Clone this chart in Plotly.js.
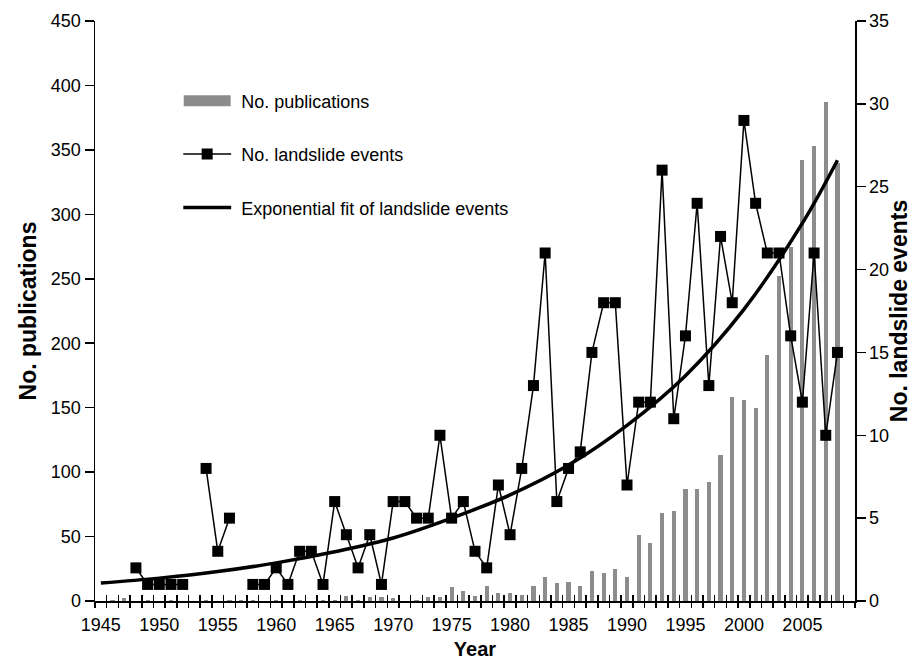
<!DOCTYPE html>
<html>
<head>
<meta charset="utf-8">
<script src="https://cdn.plot.ly/plotly-3.0.1.min.js"></script>
<style>html,body{margin:0;padding:0;background:#fff;}#chart{width:912px;height:660px;}</style>
</head>
<body>
<div id="chart"></div>
<script>
// ---- data ----
const years = [1945,1946,1947,1948,1949,1950,1951,1952,1953,1954,1955,1956,1957,1958,1959,1960,1961,1962,1963,1964,1965,1966,1967,1968,1969,1970,1971,1972,1973,1974,1975,1976,1977,1978,1979,1980,1981,1982,1983,1984,1985,1986,1987,1988,1989,1990,1991,1992,1993,1994,1995,1996,1997,1998,1999,2000,2001,2002,2003,2004,2005,2006,2007,2008];
const publications = [0,1,2,0,1,0,1,0,0,1,0,1,1,1,0,1,0,1,0,1,1,4,1,3,3,2,0,1,3,3,11,8,4,12,6,6,5,12,19,14,15,12,23,22,25,19,51,45,68,70,87,87,92,113,158,156,150,191,252,275,342,353,387,340];
const landslides = [null,null,null,2,1,1,1,1,null,8,3,5,null,1,1,2,1,3,3,1,6,4,2,4,1,6,6,5,5,10,5,6,3,2,7,4,8,13,21,6,8,9,15,18,18,7,12,12,26,11,16,24,13,22,18,29,24,21,21,16,12,21,10,15];
const fitYears = [1945,1950,1955,1960,1965,1970,1975,1980,1985,1990,1995,2000,2005,2008];
const fitValues = [1.08,1.38,1.78,2.3,2.97,3.8,5.0,6.4,8.2,10.6,13.6,17.6,22.8,26.6];
const labelYears = [1945,1950,1955,1960,1965,1970,1975,1980,1985,1990,1995,2000,2005];

const FONT = 'Liberation Sans, Arial, sans-serif';

const traces = [
  {type:'bar', x:years, y:publications, name:'No. publications', width:0.36,
   marker:{color:'#8c8c8c', line:{width:0}}, xaxis:'x', yaxis:'y', legendgroup:'a'},
  {type:'scatter', mode:'lines+markers', x:years, y:landslides, name:'No. landslide events',
   line:{color:'#000', width:1.5}, marker:{symbol:'square', size:11, color:'#000'},
   connectgaps:false, xaxis:'x', yaxis:'y2', legendgroup:'b'},
  {type:'scatter', mode:'lines', x:fitYears, y:fitValues, name:'Exponential fit of landslide events',
   line:{color:'#000', width:3.5, shape:'spline', smoothing:1}, xaxis:'x', yaxis:'y2', legendgroup:'c'},
  {type:'scatter', mode:'markers', x:[null], y:[null], xaxis:'x2', yaxis:'y', showlegend:false, hoverinfo:'skip'},
  {type:'scatter', mode:'markers', x:[null], y:[null], xaxis:'x3', yaxis:'y', showlegend:false, hoverinfo:'skip'}
];

const xrange = [1944.5, 2009.5];
const layout = {
  width:912, height:660,
  margin:{l:95, r:57, t:21, b:59},
  paper_bgcolor:'#fff', plot_bgcolor:'#fff',
  font:{family:FONT, size:18, color:'#000'},
  showlegend:true,
  legend:{x:0.116, y:0.894, xanchor:'left', yanchor:'top', bgcolor:'rgba(0,0,0,0)',
          font:{family:FONT, size:18, color:'#000'}, tracegroupgap:27, traceorder:'grouped', itemwidth:48},
  bargap:0,
  xaxis:{range:xrange, tickmode:'array', tickvals:labelYears, ticks:'', showgrid:false, zeroline:false,
         showline:true, linecolor:'#000', linewidth:1.5, tickfont:{family:FONT, size:18, color:'#000'},
         ticklabelstandoff:7, automargin:false,
         title:{text:'<b>Year</b>', font:{family:FONT, size:20, color:'#000'}, standoff:8}},
  xaxis2:{range:xrange, overlaying:'x', anchor:'y', side:'bottom', tickmode:'linear', tick0:1944.5, dtick:1,
          ticks:'outside', ticklen:6, tickwidth:1.5, tickcolor:'#000', showticklabels:false,
          showgrid:false, zeroline:false, showline:false, automargin:false},
  xaxis3:{range:xrange, overlaying:'x', anchor:'y', side:'bottom', tickmode:'linear', tick0:1944.5, dtick:1,
          ticks:'inside', ticklen:6, tickwidth:1.5, tickcolor:'#000', showticklabels:false,
          showgrid:false, zeroline:false, showline:false, automargin:false},
  yaxis:{range:[0,450], dtick:50, ticks:'outside', ticklen:9, tickwidth:1.5, tickcolor:'#000',
         showgrid:false, zeroline:false, showline:true, linecolor:'#000', linewidth:1.5,
         tickfont:{family:FONT, size:18, color:'#000'}, automargin:false,
         title:{text:'<b>No. publications</b>', font:{family:FONT, size:23, color:'#000'}, standoff:8}},
  yaxis2:{range:[0,35], dtick:5, overlaying:'y', side:'right', anchor:'x', ticks:'outside', ticklen:9, tickwidth:1.5, tickcolor:'#000',
          showgrid:false, zeroline:false, showline:true, linecolor:'#000', linewidth:1.5,
          tickfont:{family:FONT, size:18, color:'#000'}, automargin:false,
          title:{text:'<b>No. landslide events</b>', font:{family:FONT, size:23, color:'#000'}, standoff:4}}
};

function styleLegendSymbols() {
  const items = document.querySelectorAll('g.legend g.traces');
  items.forEach(function(it){
    // move the symbol area a little left, leaving a wider gap before the text
    const layers = it.querySelector('g.layers');
    if (layers) layers.setAttribute('transform', 'translate(-5,0)');
    const txt = it.querySelector('text');
    if (txt && txt.textContent === 'No. publications') {
      // wide rectangular swatch like the reference
      it.querySelectorAll('g.legendpoints path').forEach(function(p){
        p.setAttribute('d', 'M23.5,5.5H-23.5V-5.5H23.5Z');
      });
    }
  });
}

const gdiv = document.getElementById('chart');
Plotly.newPlot(gdiv, traces, layout, {displayModeBar:false, staticPlot:true}).then(function(){
  styleLegendSymbols();
  setTimeout(styleLegendSymbols, 50);
});
gdiv.on && gdiv.on('plotly_afterplot', styleLegendSymbols);
</script>
</body>
</html>
